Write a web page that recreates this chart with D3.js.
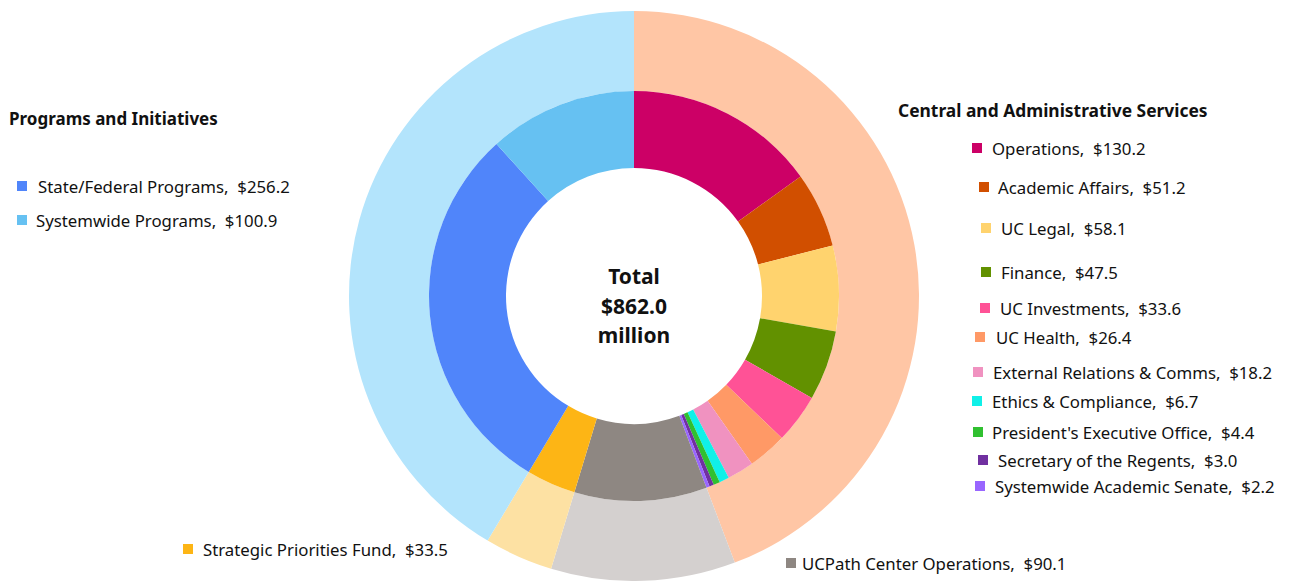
<!DOCTYPE html>
<html>
<head>
<meta charset="utf-8">
<script src="https://cdn.jsdelivr.net/npm/d3@7"></script>
<style>
  body { margin: 0; background: #fff; }
  text { font-family: "Noto Sans", "Open Sans", sans-serif; fill: #111; white-space: pre; }
</style>
</head>
<body>
<script>
// inner ring, clockwise from 12 o'clock
const categories = [
  'Operations', 'Academic Affairs', 'UC Legal', 'Finance', 'UC Investments', 'UC Health',
  'External Relations & Comms', 'Ethics & Compliance', "President's Executive Office",
  'Secretary of the Regents', 'Systemwide Academic Senate', 'UCPath Center Operations',
  'Strategic Priorities Fund', 'State/Federal Programs', 'Systemwide Programs'
];
const values = [130.2, 51.2, 58.1, 47.5, 33.6, 26.4, 18.2, 6.7, 4.4, 3.0, 2.2, 90.1, 33.5, 256.2, 100.9];
const colors = ['#cc0066', '#d14f00', '#ffd36e', '#629100', '#ff5296', '#ff9966', '#f092c0',
  '#10f0e8', '#30c030', '#7030a0', '#9966ff', '#8e8782', '#fdb515', '#5085fa', '#66c1f2'];

// outer ring groups
const groups = ['Central and Administrative Services', 'UCPath Center Operations', 'Strategic Priorities Fund', 'Programs and Initiatives'];
const groupValues = [381.5, 90.1, 33.5, 357.1];
const groupColors = ['#ffc6a5', '#d4d0cf', '#fde1a3', '#b3e4fc'];

const centerLines = ['Total', '$862.0', 'million'];

// legend layout: [square x, y center, text x]
const legendPos = [
  [972, 148, 992], [979, 187, 998], [981, 228, 1001], [981, 272, 1001], [980, 308, 1000],
  [975, 337, 996], [973, 372, 993], [972, 401, 992], [973, 432, 992], [978, 460, 998],
  [975, 486, 995], [786, 563, 802], [183, 549, 203], [17, 186, 38], [17, 220, 36]
];

const width = 1291, height = 581;
const cx = 634, cy = 296;

const svg = d3.select('body').append('svg')
  .attr('width', width).attr('height', height);

const g = svg.append('g').attr('transform', `translate(${cx},${cy})`);

const pie = d3.pie().sort(null).value(d => d);

const innerArc = d3.arc().innerRadius(128).outerRadius(205);
const outerArc = d3.arc().innerRadius(205).outerRadius(285);

g.selectAll('path.outer')
  .data(pie(groupValues))
  .enter().append('path')
  .attr('class', 'outer')
  .attr('d', outerArc)
  .attr('fill', (d, i) => groupColors[i]);

g.selectAll('path.inner')
  .data(pie(values))
  .enter().append('path')
  .attr('class', 'inner')
  .attr('d', innerArc)
  .attr('fill', (d, i) => colors[i]);

g.selectAll('text.center')
  .data(centerLines)
  .enter().append('text')
  .attr('class', 'center')
  .attr('x', 0)
  .attr('y', (d, i) => -20 + i * 29.5)
  .attr('text-anchor', 'middle')
  .attr('dominant-baseline', 'central')
  .style('font-size', '21px')
  .style('font-weight', 'bold')
  .text(d => d);

// group titles
svg.append('text')
  .attr('x', 9).attr('y', 118)
  .attr('dominant-baseline', 'central')
  .style('font-size', '17px').style('font-weight', 'bold')
  .text(groups[3]);

svg.append('text')
  .attr('x', 898).attr('y', 110)
  .attr('dominant-baseline', 'central')
  .style('font-size', '17.4px').style('font-weight', 'bold')
  .text(groups[0]);

const legend = svg.selectAll('g.legend')
  .data(categories)
  .enter().append('g')
  .attr('class', 'legend');

legend.append('rect')
  .attr('x', (d, i) => legendPos[i][0])
  .attr('y', (d, i) => legendPos[i][1] - 5)
  .attr('width', 10).attr('height', 10)
  .attr('fill', (d, i) => colors[i]);

legend.append('text')
  .attr('x', (d, i) => legendPos[i][2])
  .attr('y', (d, i) => legendPos[i][1])
  .attr('dominant-baseline', 'central')
  .style('font-size', '16.8px')
  .text((d, i) => `${d},  $${values[i].toFixed(1)}`);
</script>
</body>
</html>
